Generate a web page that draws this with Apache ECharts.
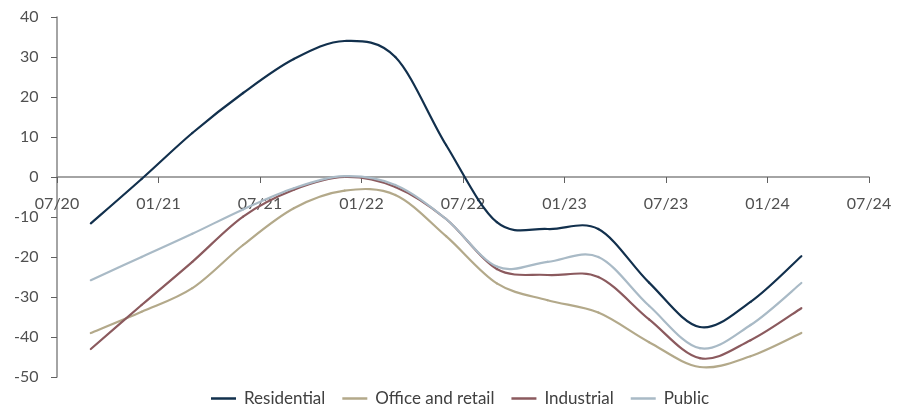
<!DOCTYPE html>
<html>
<head>
<meta charset="utf-8">
<script src="https://cdn.jsdelivr.net/npm/echarts@6/dist/echarts.min.js"></script>
<style>html,body{margin:0;padding:0;background:#fff}#c{width:901px;height:407px}</style>
</head>
<body>
<div id="c"></div>
<script>
// Months since 07/2020 (quarter ends Sep 2020 .. Mar 2024)
var months = [2, 5, 8, 11, 14, 17, 20, 23, 26, 29, 32, 35, 38, 41, 44];
var tickLabels = ['07/20', '01/21', '07/21', '01/22', '07/22', '01/23', '07/23', '01/24', '07/24'];
var residential = [-11.6, -0.5, 11, 21, 29.5, 34, 30, 8, -11.3, -13, -13, -26.4, -37.5, -31.2, -19.8];
var officeRetail = [-39, -33.7, -27.8, -17, -7.8, -3.4, -4.5, -14.8, -26.6, -30.8, -33.9, -41.3, -47.5, -44.8, -39];
var industrial = [-43, -32, -21.2, -9.9, -3.2, 0, -2.5, -10.5, -23, -24.5, -25, -35.6, -45.3, -40.8, -32.8];
var publicSec = [-25.8, -20, -14.2, -8.1, -2.8, 0.2, -2, -10.5, -22.4, -21.2, -20, -32.2, -42.8, -37, -26.5];

function pairs(vals) { return vals.map(function (v, i) { return [months[i], v]; }); }

var chart = echarts.init(document.getElementById('c'));
var font = 'Lato, "Open Sans", sans-serif';

// Smoothed line (Catmull-Rom style Bezier) through the data points, positioned by the axes
function smoothSeries(name, vals, color) {
  var data = pairs(vals);
  return {
    name: name, type: 'custom', data: data,
    encode: { x: 0, y: 1 },
    itemStyle: { color: color },
    renderItem: function (params, api) {
      if (params.dataIndex !== 0) return null;
      var p = data.map(function (d) { return api.coord(d); });
      var n = p.length, children = [];
      for (var i = 0; i < n - 1; i++) {
        var p0 = p[Math.max(i - 1, 0)], p1 = p[i], p2 = p[i + 1], p3 = p[Math.min(i + 2, n - 1)];
        children.push({
          type: 'bezierCurve',
          shape: {
            x1: p1[0], y1: p1[1], x2: p2[0], y2: p2[1],
            cpx1: p1[0] + (p2[0] - p0[0]) / 6, cpy1: p1[1] + (p2[1] - p0[1]) / 6,
            cpx2: p2[0] - (p3[0] - p1[0]) / 6, cpy2: p2[1] - (p3[1] - p1[1]) / 6
          },
          style: { stroke: color, lineWidth: 2.2, fill: null, lineCap: 'round' }
        });
      }
      return { type: 'group', children: children };
    }
  };
}

chart.setOption({
  animation: false,
  grid: { left: 57, right: 32, top: 17, bottom: 30, containLabel: false },
  legend: {
    top: 385, left: 206, itemWidth: 25, itemHeight: 2.5, itemGap: 17,
    icon: 'rect',
    textStyle: { fontFamily: font, fontSize: 17, color: '#404040', padding: [0, 0, 0, 3] },
    data: ['Residential', 'Office and retail', 'Industrial', 'Public']
  },
  xAxis: {
    type: 'value', min: 0, max: 48, interval: 6, position: 'bottom', offset: -200,
    axisLine: { onZero: false, lineStyle: { color: '#868686', width: 1.5 } },
    axisTick: { show: true, length: 6, lineStyle: { color: '#606060' } },
    splitLine: { show: false },
    axisLabel: { fontFamily: font, fontSize: 16, color: '#505050', margin: 19,
      formatter: function (v) { return tickLabels[v / 6]; } }
  },
  yAxis: {
    type: 'value', min: -50, max: 40, interval: 10,
    axisLine: { show: true, onZero: false, lineStyle: { color: '#868686', width: 1.5 } },
    axisTick: { show: true, length: 6, lineStyle: { color: '#606060' } },
    splitLine: { show: false },
    axisLabel: { fontFamily: font, fontSize: 16, color: '#505050', margin: 0,
      formatter: function (v) { return v + '\u2007\u2007'; } }
  },
  series: [
    smoothSeries('Residential', residential, '#12304d'),
    smoothSeries('Office and retail', officeRetail, '#b3a98a'),
    smoothSeries('Industrial', industrial, '#8b5a5e'),
    smoothSeries('Public', publicSec, '#a9bac6')
  ]
});
</script>
</body>
</html>
